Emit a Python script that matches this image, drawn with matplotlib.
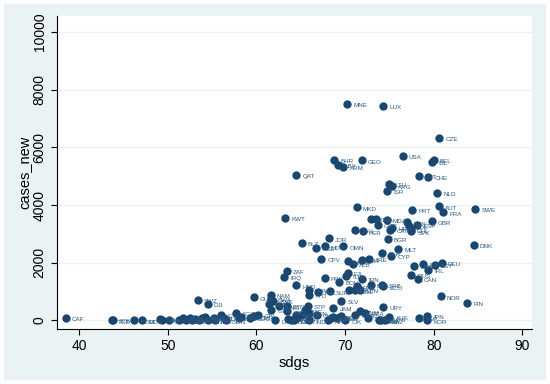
import matplotlib
matplotlib.use("Agg")
import matplotlib.pyplot as plt
from matplotlib.patches import Rectangle

plt.rcParams['font.family'] = ['Liberation Sans', 'DejaVu Sans']

# country codes, sdg index, new cases
codes = ["CAF", "TCD", "SOM", "COD", "MDG", "NGA", "LBR", "SLE", "MOZ", "AFG",
         "GIN", "MLI", "BDI", "HTI", "YEM", "PNG", "BEN", "GNB", "ZMB", "MWI",
         "ETH", "UGA", "SDN", "AGO", "LSO", "TGO", "COG", "CMR", "CIV", "LAO",
         "PAK", "BGD", "MMR", "KEN", "RWA", "TZA", "IND", "GHA", "NPL", "KHM",
         "IDN", "LKA", "EGY", "TJK", "MAR", "VNM", "DZA", "TUN", "CHN", "THA",
         "KAZ", "MYS", "AUS", "SGP", "JPN", "KOR",
         "SWZ", "DJI", "GUY", "NAM", "BWA", "ZWE", "SEN", "GTM", "MNG", "BTN",
         "KGZ", "STP", "NIC", "VEN", "JAM", "SLV", "URY", "NOR", "FIN",
         "DOM", "TTO", "PHL", "SUR", "MEX", "COL", "PAN", "LBN", "BRA", "SRB",
         "ECU", "HND", "IRQ", "ZAF", "PRY", "BOL", "TUR", "FJI", "IRN", "RUS",
         "CAN", "IRL", "HUN", "ITA", "EST", "DEU", "CPV", "UKR", "ALB", "BIH",
         "ARE", "BLR", "CYP", "MLT", "BLZ", "PSE", "MDV", "OMN", "JOR", "SAU",
         "PER", "ROU", "LVA", "GRC", "MDA", "CRI", "HRV", "BGR", "SVN", "POL",
         "CHL", "SVK", "ESP", "GBR", "KWT", "MKD", "PRT", "AUT", "FRA", "SWE",
         "DNK", "NLD", "ISR", "LTU", "ARG", "EST", "CHE", "QAT", "BHR", "LBY",
         "ARM", "GEO", "USA", "ISL", "BEL", "CZE", "MNE", "LUX"]

sdgs = [38.5, 43.7, 43.8, 46.2, 47.1, 49.1, 49.4, 50.1, 51.3, 51.7,
        52.1, 52.5, 52.7, 53.1, 53.5, 53.9, 54.2, 54.5, 55.2, 55.3,
        56.0, 56.4, 56.6, 57.7, 58.0, 58.3, 59.3, 59.7, 60.2, 62.1,
        63.6, 63.9, 64.3, 64.6, 64.5, 65.2, 65.9, 66.8, 68.1, 68.4,
        68.7, 69.1, 69.5, 70.0, 71.1, 71.7, 72.3, 72.6, 73.8, 74.1,
        74.5, 74.7, 75.0, 78.3, 79.2, 79.3,
        53.4, 54.5, 59.7, 61.6, 61.7, 61.9, 61.4, 61.7, 62.6, 63.4,
        63.5, 65.8, 65.5, 65.9, 68.7, 69.6, 74.3, 80.8, 83.8,
        65.9, 65.9, 67.0, 68.3, 70.5, 71.1, 71.3, 71.7, 72.9, 74.2,
        74.3, 64.5, 63.1, 63.4, 67.7, 69.3, 70.1, 70.3, 71.9, 77.5,
        78.2, 79.4, 77.8, 78.8, 80.1, 80.9, 67.3, 70.3, 70.9, 71.9,
        72.7, 74.2, 75.2, 76.0, 65.1, 66.7, 67.7, 69.8, 68.2, 71.1,
        72.0, 72.9, 73.5, 73.7, 74.7, 75.1, 75.3, 74.8, 77.0, 77.2,
        77.4, 77.5, 78.1, 79.8, 63.2, 71.3, 77.6, 80.6, 81.1, 84.7,
        84.5, 80.4, 74.7, 75.0, 75.3, 78.3, 79.4, 64.5, 68.8, 69.2,
        69.8, 71.9, 76.5, 79.8, 80.0, 80.6, 70.2, 74.3]

cases_new = [81, 0, 15, 0, 0, 60, 20, 0, 20, 80,
             0, 80, 0, 40, 0, 80, 115, 0, 80, 0,
             200, 80, 0, 250, 80, 115, 80, 140, 200, 0,
             45, 0, 0, 80, 200, 200, 0, 200, 0, 80,
             115, 80, 140, 0, 200, 310, 250, 80, 0, 0,
             0, 60, 115, 80, 170, 0,
             715, 580, 800, 870, 750, 680, 580, 370, 485, 510,
             310, 510, 345, 255, 430, 680, 460, 830, 600,
             1065, 890, 995, 1005, 1065, 1040, 1180, 1065, 1235, 1235,
             1180, 1215, 1505, 1720, 1470, 1330, 1550, 1640, 1435, 1585,
             1435, 1755, 1895, 1965, 1930, 1990, 2125, 2045, 1950, 2105,
             2125, 2335, 2240, 2485, 2680, 2510, 2565, 2565, 2845, 3145,
             3085, 3525, 3525, 3320, 3490, 3145, 3200, 2820, 3400, 3285,
             3145, 3085, 3320, 3435, 3550, 3920, 3840, 3955, 3745, 3860,
             2625, 4415, 4500, 4730, 4680, 5015, 4970, 5050, 5570, 5400,
             5320, 5550, 5710, 5490, 5570, 6325, 7515, 7455]

yticks = [0, 2000, 4000, 6000, 8000, 10000]
xticks = [40, 50, 60, 70, 80, 90]

navy = "#1a476f"
bg = "#eaf2f3"

fig = plt.figure(figsize=(5.5, 3.84), dpi=100)
fig.patch.set_facecolor("white")
fig.patches.append(Rectangle((4 / 550, 4 / 384), 542 / 550, 376 / 384,
                             transform=fig.transFigure, facecolor=bg,
                             edgecolor="none", zorder=-10))

ax = fig.add_axes([57 / 550, 55 / 384, 475 / 550, 313 / 384])
ax.set_zorder(1)
ax.set_facecolor("white")
ax.scatter(sdgs, cases_new, s=36, color=navy, zorder=3, linewidths=0)
for c, x, y in zip(codes, sdgs, cases_new):
    ax.annotate(c, (x, y), xytext=(4.5, -1.2), textcoords="offset points",
                fontsize=4.5, color="#2a5a85", va="center", zorder=4)

ax.set_xlim(37.5, 91.1)
ax.set_ylim(-298, 10560)
ax.set_xticks(xticks)
ax.set_yticks(yticks)
ax.set_yticklabels([str(t) for t in yticks], rotation=90, va="center")
ax.tick_params(labelsize=10, length=4, width=0.8, color="black")
ax.yaxis.grid(True, color=bg, linewidth=1.0, zorder=0)
ax.set_axisbelow(True)
for side in ["top", "right"]:
    ax.spines[side].set_visible(False)
for side in ["left", "bottom"]:
    ax.spines[side].set_linewidth(0.8)
ax.set_xlabel("sdgs", fontsize=10.5, labelpad=2)
ax.set_ylabel("cases_new", fontsize=10.5, labelpad=1)

fig.savefig("out.png", dpi=100, facecolor=fig.get_facecolor())
